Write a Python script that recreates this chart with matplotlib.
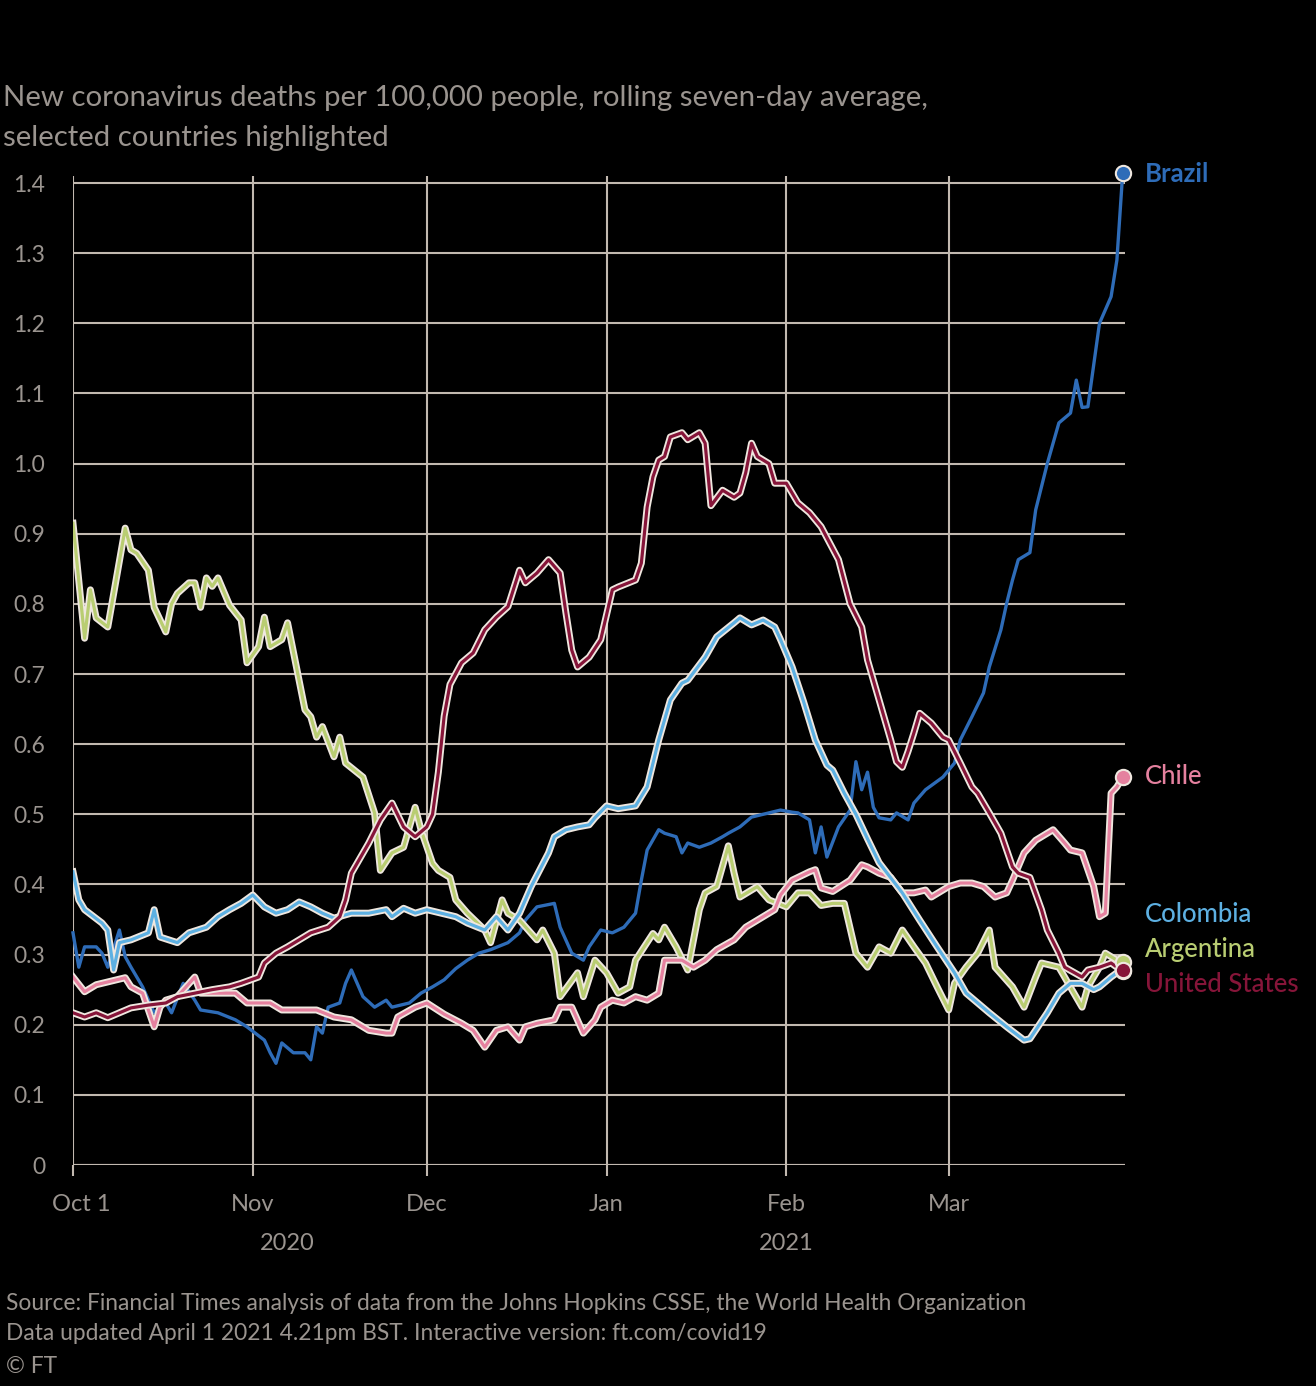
import matplotlib
matplotlib.use("Agg")
import matplotlib.pyplot as plt
import matplotlib.patheffects as pe
import matplotlib.transforms as mtransforms
import pandas as pd

START = pd.Timestamp("2020-10-01")

# ---- data: day offsets from Oct 1 2020 and values (deaths per 100k, 7-day avg) ----
argentina_days = [0, 2, 3, 4, 6, 9, 10, 11, 13, 14, 16, 17, 18, 20, 21, 22, 23, 24, 25, 27, 29, 30, 32, 33, 34, 36, 37,
                  40, 41, 42, 43, 45, 46, 47, 50, 52, 53, 55, 57, 59, 60, 62, 63, 65, 66, 68, 71, 72, 74, 75, 77, 80,
                  81, 83, 84, 87, 88, 90, 92, 94, 96, 97, 100, 101, 102, 104, 106, 108, 109, 111, 113, 114, 115, 118,
                  120, 123, 125, 127, 129, 131, 133, 135, 137, 139, 141, 143, 145, 147, 149, 151, 152, 154, 156, 158,
                  159, 162, 164, 166, 167, 170, 174, 175, 177, 178, 180, 181]
argentina_vals = [0.915, 0.751, 0.82, 0.78, 0.767, 0.908, 0.877, 0.872, 0.848, 0.795, 0.76, 0.80, 0.815, 0.83, 0.83,
                  0.795, 0.837, 0.825, 0.837, 0.798, 0.777, 0.716, 0.739, 0.781, 0.739, 0.749, 0.773, 0.649, 0.639,
                  0.61, 0.625, 0.582, 0.61, 0.573, 0.553, 0.502, 0.42, 0.445, 0.453, 0.51, 0.478, 0.43, 0.42, 0.41,
                  0.378, 0.359, 0.335, 0.317, 0.378, 0.359, 0.349, 0.321, 0.335, 0.302, 0.24, 0.274, 0.24, 0.292,
                  0.274, 0.245, 0.254, 0.292, 0.33, 0.321, 0.339, 0.311, 0.278, 0.364, 0.388, 0.397, 0.455, 0.416,
                  0.382, 0.397, 0.378, 0.368, 0.388, 0.388, 0.37, 0.373, 0.373, 0.302, 0.282, 0.311, 0.302, 0.335,
                  0.311, 0.288, 0.254, 0.221, 0.259, 0.282, 0.302, 0.335, 0.282, 0.254, 0.225, 0.268, 0.288, 0.282,
                  0.225, 0.254, 0.282, 0.302, 0.292, 0.29]

colombia_days = [0, 1, 2, 5, 6, 7, 8, 10, 13, 14, 15, 18, 20, 23, 25, 27, 29, 31, 33, 35, 37, 39, 41, 43, 45, 48, 51,
                 54, 55, 57, 59, 61, 63, 66, 68, 71, 73, 75, 77, 79, 82, 83, 85, 87, 89, 90, 92, 94, 97, 99, 101, 103,
                 105, 106, 109, 111, 114, 115, 117, 119, 121, 122, 124, 126, 128, 130, 131, 133, 135, 137, 139, 143,
                 146, 149, 152, 154, 158, 161, 164, 165, 168, 170, 172, 174, 176, 177, 179, 180, 181]
colombia_vals = [0.418, 0.378, 0.364, 0.345, 0.335, 0.278, 0.317, 0.321, 0.331, 0.364, 0.325, 0.317, 0.331, 0.339,
                 0.354, 0.364, 0.373, 0.385, 0.368, 0.359, 0.364, 0.375, 0.368, 0.359, 0.352, 0.359, 0.359, 0.364,
                 0.354, 0.366, 0.359, 0.364, 0.36, 0.354, 0.345, 0.335, 0.354, 0.335, 0.359, 0.397, 0.445, 0.468,
                 0.478, 0.482, 0.485, 0.495, 0.512, 0.508, 0.512, 0.539, 0.606, 0.663, 0.687, 0.691, 0.724, 0.753,
                 0.773, 0.78, 0.77, 0.777, 0.767, 0.749, 0.71, 0.66, 0.606, 0.57, 0.563, 0.53, 0.5, 0.465, 0.431,
                 0.388, 0.349, 0.311, 0.274, 0.245, 0.217, 0.197, 0.178, 0.18, 0.217, 0.245, 0.259, 0.259, 0.25,
                 0.254, 0.268, 0.274, 0.276]

chile_days = [0, 2, 4, 6, 9, 10, 12, 14, 15, 16, 18, 21, 22, 24, 28, 30, 34, 36, 42, 45, 48, 51, 54, 55, 56, 59, 61,
              64, 67, 69, 71, 73, 75, 77, 78, 80, 83, 84, 86, 88, 90, 91, 93, 95, 97, 99, 101, 102, 105, 107, 109, 111,
              114, 116, 118, 121, 122, 124, 127, 128, 129, 131, 134, 136, 137, 139, 141, 143, 145, 147, 148, 151, 153,
              155, 157, 159, 161, 162, 164, 166, 168, 169, 171, 172, 174, 176, 177, 178, 179, 180, 181]
chile_vals = [0.268, 0.247, 0.257, 0.261, 0.267, 0.254, 0.245, 0.197, 0.225, 0.235, 0.24, 0.268, 0.245, 0.245, 0.245,
              0.231, 0.231, 0.221, 0.221, 0.211, 0.207, 0.192, 0.188, 0.188, 0.211, 0.225, 0.231, 0.215, 0.202,
              0.192, 0.168, 0.192, 0.197, 0.178, 0.197, 0.202, 0.207, 0.225, 0.225, 0.188, 0.207, 0.225, 0.235,
              0.231, 0.24, 0.235, 0.245, 0.292, 0.292, 0.282, 0.292, 0.307, 0.321, 0.339, 0.349, 0.364, 0.385,
              0.406, 0.418, 0.421, 0.395, 0.39, 0.406, 0.428, 0.425, 0.416, 0.41, 0.388, 0.388, 0.392, 0.382, 0.397,
              0.402, 0.402, 0.397, 0.382, 0.388, 0.406, 0.445, 0.463, 0.473, 0.478, 0.459, 0.449, 0.445, 0.397,
              0.354, 0.359, 0.53, 0.539, 0.553]

us_days = [0, 2, 4, 6, 8, 10, 13, 16, 18, 21, 24, 27, 29, 32, 33, 35, 37, 39, 41, 44, 46, 47, 48, 51, 53, 55, 57, 59,
           61, 62, 63, 64, 65, 67, 69, 71, 73, 75, 77, 78, 80, 82, 84, 85, 86, 87, 89, 91, 93, 94, 97, 98, 99, 100,
           101, 102, 103, 105, 106, 108, 109, 110, 112, 114, 115, 116, 117, 118, 120, 121, 123, 125, 127, 129, 132,
           134, 136, 137, 139, 141, 142, 143, 144, 145, 146, 148, 150, 151, 153, 155, 156, 158, 160, 162, 163, 165,
           167, 168, 170, 171, 174, 175, 177, 179, 180, 181]
us_vals = [0.217, 0.211, 0.217, 0.21, 0.217, 0.224, 0.228, 0.231, 0.24, 0.245, 0.25, 0.254, 0.259, 0.268, 0.288, 0.302,
           0.311, 0.321, 0.331, 0.339, 0.354, 0.378, 0.416, 0.459, 0.492, 0.516, 0.482, 0.468, 0.482, 0.50, 0.56,
           0.64, 0.685, 0.716, 0.73, 0.763, 0.781, 0.796, 0.848, 0.83, 0.844, 0.863, 0.844, 0.787, 0.734, 0.71,
           0.724, 0.749, 0.82, 0.824, 0.834, 0.858, 0.938, 0.981, 1.005, 1.01, 1.038, 1.044, 1.034, 1.044, 1.029,
           0.94, 0.962, 0.952, 0.958, 0.987, 1.029, 1.01, 1.0, 0.972, 0.972, 0.944, 0.93, 0.91, 0.863, 0.80, 0.767,
           0.72, 0.663, 0.606, 0.575, 0.567, 0.59, 0.616, 0.644, 0.63, 0.61, 0.606, 0.573, 0.539, 0.53, 0.502,
           0.473, 0.425, 0.416, 0.41, 0.364, 0.335, 0.302, 0.282, 0.268, 0.278, 0.282, 0.288, 0.282, 0.278]

brazil_days = [0, 1, 2, 4, 5, 6, 8, 9, 10, 12, 14, 16, 17, 19, 21, 22, 25, 28, 30, 33, 34, 35, 36, 38, 40, 41, 42, 43,
               44, 46, 47, 48, 50, 52, 54, 55, 58, 60, 62, 64, 66, 68, 70, 72, 75, 77, 78, 80, 83, 84, 86, 88, 89, 91,
               93, 95, 97, 98, 99, 101, 102, 104, 105, 106, 108, 110, 112, 113, 115, 117, 120, 122, 124, 125, 127,
               128, 129, 130, 132, 134, 135, 136, 137, 138, 139, 141, 142, 144, 145, 147, 150, 152, 153, 155, 157,
               158, 160, 161, 162, 163, 165, 166, 168, 170, 172, 173, 174, 175, 177, 179, 180, 181]
brazil_vals = [0.331, 0.282, 0.311, 0.311, 0.302, 0.282, 0.335, 0.297, 0.282, 0.254, 0.217, 0.231, 0.217, 0.259, 0.235,
               0.221, 0.217, 0.207, 0.197, 0.178, 0.16, 0.145, 0.174, 0.16, 0.16, 0.15, 0.197, 0.188, 0.225, 0.231,
               0.259, 0.278, 0.24, 0.225, 0.235, 0.225, 0.231, 0.245, 0.254, 0.264, 0.28, 0.292, 0.302, 0.307,
               0.317, 0.331, 0.349, 0.368, 0.373, 0.339, 0.302, 0.292, 0.311, 0.335, 0.331, 0.339, 0.359, 0.406,
               0.449, 0.478, 0.473, 0.468, 0.445, 0.459, 0.453, 0.459, 0.468, 0.473, 0.482, 0.496, 0.502, 0.506,
               0.503, 0.502, 0.492, 0.445, 0.482, 0.439, 0.482, 0.506, 0.575, 0.535, 0.56, 0.51, 0.495, 0.492,
               0.502, 0.492, 0.516, 0.535, 0.553, 0.573, 0.606, 0.639, 0.673, 0.71, 0.763, 0.801, 0.834, 0.863,
               0.873, 0.934, 1.0, 1.058, 1.072, 1.119, 1.08, 1.081, 1.2, 1.238, 1.29, 1.414]

country_names = ["Brazil", "Argentina", "Chile", "Colombia", "United States"]

y_ticks = [0, 0.1, 0.2, 0.3, 0.4, 0.5, 0.6, 0.7, 0.8, 0.9, 1.0, 1.1, 1.2, 1.3, 1.4]
y_tick_labels = ["0", "0.1", "0.2", "0.3", "0.4", "0.5", "0.6", "0.7", "0.8", "0.9", "1.0", "1.1", "1.2", "1.3", "1.4"]
month_tick_dates = ["2020-10-01", "2020-11-01", "2020-12-01", "2021-01-01", "2021-02-01", "2021-03-01"]
month_tick_labels = ["Oct 1", "Nov", "Dec", "Jan", "Feb", "Mar"]
year_labels = ["2020", "2021"]
year_label_dates = ["2020-11-07", "2021-02-01"]

title_lines = ["New coronavirus deaths per 100,000 people, rolling seven-day average,",
               "selected countries highlighted"]
source_lines = ["Source: Financial Times analysis of data from the Johns Hopkins CSSE, the World Health Organization",
                "Data updated April 1 2021 4.21pm BST. Interactive version: ft.com/covid19",
                "\u00a9 FT"]

# ---- style ----
W, H = 1316, 1386
BG = "#000000"
GRID = "#c2b9b0"
TXT = "#9a948f"
HALO = "#efe7df"
colors = {"Brazil": "#2e6cb8", "Argentina": "#b9cd72", "Chile": "#e5819f",
          "Colombia": "#5db0e2", "United States": "#861539"}
series = {"Brazil": (brazil_days, brazil_vals), "Argentina": (argentina_days, argentina_vals),
          "Chile": (chile_days, chile_vals), "Colombia": (colombia_days, colombia_vals),
          "United States": (us_days, us_vals)}

plt.rcParams['font.family'] = ['Lato', 'DejaVu Sans']

fig = plt.figure(figsize=(W / 100, H / 100), dpi=100, facecolor=BG)
ax_left, ax_right, ax_bottom, ax_top = 73, 1125, 1165, 176
ax = fig.add_axes([ax_left / W, 1 - ax_bottom / H, (ax_right - ax_left) / W, (ax_bottom - ax_top) / H])
ax.set_facecolor(BG)

ax.set_xlim(START, START + pd.Timedelta(days=181.4))
ax.set_ylim(0, 1.41)

for s in ax.spines.values():
    s.set_visible(False)

ax.set_yticks(y_ticks)
ax.set_yticklabels(y_tick_labels)
ax.set_xticks(pd.to_datetime(month_tick_dates))
ax.set_xticklabels(month_tick_labels)
ax.grid(True, color=GRID, lw=1.5, zorder=0)
ax.set_axisbelow(True)
ax.tick_params(axis='y', length=0, pad=20, labelsize=16.5, labelcolor=TXT)
ax.tick_params(axis='x', length=8, width=1.5, color=GRID, pad=13, labelsize=17, labelcolor=TXT)
first = ax.get_xticklabels()[0]
first.set_transform(first.get_transform() + mtransforms.ScaledTranslation(8 / 100, 0, fig.dpi_scale_trans))

ax.axhline(0, color=GRID, lw=1.5, zorder=1)

draw_order = ["Brazil", "Argentina", "Chile", "Colombia", "United States"]
for i, name in enumerate(draw_order):
    d, v = series[name]
    x = START + pd.to_timedelta(d, unit='D')
    if name == "Brazil":
        ax.plot(x, v, color=colors[name], lw=2.4, zorder=3 + i, clip_on=False, solid_joinstyle='round')
    else:
        ax.plot(x, v, color=colors[name], lw=2.3, zorder=3 + i, solid_joinstyle='round',
                path_effects=[pe.Stroke(linewidth=5.0, foreground=HALO), pe.Normal()])

dot_order = ["Argentina", "Colombia", "Chile", "United States", "Brazil"]
for j, name in enumerate(dot_order):
    d, v = series[name]
    ax.plot([START + pd.Timedelta(days=d[-1])], [v[-1]], 'o', ms=11, mfc=colors[name], mec=HALO, mew=1.5,
            zorder=20 + j, clip_on=False)

# end labels
label_px_y = {"Brazil": 174, "Chile": 777, "Colombia": 915, "Argentina": 950, "United States": 985}
for name in country_names:
    fig.text(1145 / W, 1 - label_px_y[name] / H, name, color=colors[name], fontsize=18.5,
             fontweight='bold' if name == "Brazil" else 'medium', va='center', ha='left')

# year labels
for lab, dt in zip(year_labels, year_label_dates):
    xf = ax.transData.transform((pd.Timestamp(dt).toordinal() - pd.Timestamp("1970-01-01").toordinal(), 0))[0]
    fig.text(xf / W, 1 - 1250 / H, lab, color=TXT, fontsize=17, ha='center', va='baseline')

# title
fig.text(3 / W, 1 - 106 / H, title_lines[0], color=TXT, fontsize=21.2, ha='left', va='baseline')
fig.text(3 / W, 1 - 146 / H, title_lines[1], color=TXT, fontsize=21.2, ha='left', va='baseline')

# source
src_y = [1310, 1340, 1373]
for line, yy in zip(source_lines, src_y):
    fig.text(6 / W, 1 - yy / H, line, color=TXT, fontsize=16.4, ha='left', va='baseline')

fig.savefig("out.png", dpi=100, facecolor=BG)
